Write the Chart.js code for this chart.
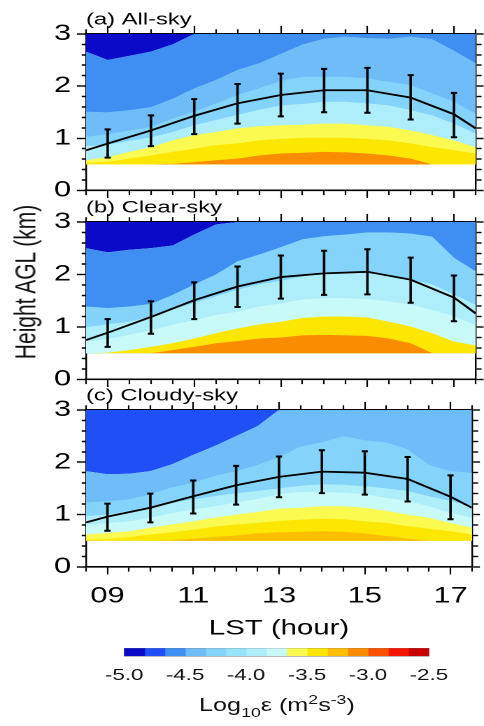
<!DOCTYPE html>
<html>
<head>
<meta charset="utf-8">
<script src="https://cdn.jsdelivr.net/npm/chart.js@4.4.1/dist/chart.umd.min.js"></script>
<style>
  html, body { margin: 0; padding: 0; background: #fff; }
  /* the figure is laid out 346px wide and stretched sideways to 484px */
  #figure { position: absolute; left: 0; top: 0; width: 346px; height: 726px;
            transform: scaleX(1.3988); transform-origin: 0 0;
            font-family: 'Liberation Sans', Arial, sans-serif; color: #111; }
  #figure canvas { position: absolute; left: 0; }
  .ytitle { position: absolute; left: -82px; top: 270px; width: 200px; height: 24px;
            line-height: 24px; text-align: center; font-size: 21px; transform: rotate(-90deg); }
  .cbtitle { position: absolute; left: 98px; top: 695px; width: 200px; line-height: 20px;
             text-align: center; font-size: 18px; white-space: nowrap; }
  .cbtitle sub, .cbtitle sup { font-size: 70%; line-height: 0; }
  .cbtitle sub { vertical-align: -0.45em; }
  .cbtitle sup { vertical-align: 0.55em; }
</style>
</head>
<body>
<div id="figure">
  <canvas id="panelA" width="346" height="212" style="top:0px"></canvas>
  <canvas id="panelB" width="346" height="213" style="top:188px"></canvas>
  <canvas id="panelC" width="346" height="265" style="top:376px"></canvas>
  <canvas id="colorbar" width="346" height="60" style="top:640px"></canvas>
  <div class="ytitle">Height AGL (km)</div>
  <div class="cbtitle">Log<sub>10</sub>ε (m<sup>2</sup>s<sup>-3</sup>)</div>
</div>
<script>
// sample times of the contour boundaries (LST, hours)
const TIMES = [8.5, 9, 9.5, 10, 10.5, 11, 11.5, 12, 12.5, 13, 13.5, 14, 14.5, 15, 15.5, 16, 16.5, 17, 17.5];
// mean-height line and error bars
const LINE_TIMES = [8.5, 9, 10, 11, 12, 13, 14, 15, 16, 17, 17.5];
const HOURS = [9, 10, 11, 12, 13, 14, 15, 16, 17];

// log10(epsilon) colour levels
const LEVEL_EDGES = [-5.0, -4.833, -4.667, -4.5, -4.333, -4.167, -4.0, -3.833, -3.667,
                     -3.5, -3.333, -3.167, -3.0, -2.833, -2.667, -2.5];
const COLORS = ['#0a0ac8', '#1e50f5', '#3f8ef2', '#6ebcf8', '#84d3fa', '#98e2fa', '#aeeefa',
                '#c8fafa', '#fafa50', '#fde600', '#fbbe00', '#fa8c00', '#fa5000', '#f51400', '#c80000'];

// (a) all-sky: boundary heights (km), top boundary first
const ALL_SKY_BOUNDS = [
  [2.66, 2.5, 2.58, 2.66, 2.8, 3.0, 3.0, 3.0, 3.0, 3.0, 3.0, 3.0, 3.0, 3.0, 3.0, 3.0, 3.0, 3.0, 3.0],
  [1.51, 1.5, 1.54, 1.6, 1.76, 1.96, 2.12, 2.31, 2.44, 2.62, 2.8, 2.91, 2.95, 2.92, 2.91, 2.95, 2.9, 2.68, 2.44],
  [1.03, 1.08, 1.15, 1.22, 1.38, 1.51, 1.67, 1.83, 1.96, 2.1, 2.18, 2.18, 2.18, 2.15, 2.08, 2.02, 1.86, 1.7, 1.47],
  [0.85, 0.88, 0.95, 1.02, 1.12, 1.25, 1.35, 1.45, 1.55, 1.63, 1.66, 1.7, 1.7, 1.67, 1.63, 1.54, 1.44, 1.28, 1.09],
  [0.58, 0.64, 0.74, 0.83, 0.96, 1.06, 1.12, 1.19, 1.23, 1.25, 1.26, 1.28, 1.28, 1.25, 1.22, 1.15, 1.06, 0.96, 0.83],
  [0.53, 0.55, 0.61, 0.67, 0.74, 0.8, 0.87, 0.9, 0.96, 0.99, 1.01, 1.01, 1.01, 0.99, 0.96, 0.9, 0.83, 0.77, 0.71],
  [0.5, 0.5, 0.5, 0.5, 0.51, 0.54, 0.58, 0.61, 0.67, 0.71, 0.72, 0.74, 0.73, 0.71, 0.67, 0.61, 0.5, 0.5, 0.5]
];
const ALL_SKY_MEAN = [0.77, 0.9, 1.15, 1.43, 1.67, 1.83, 1.92, 1.92, 1.78, 1.46, 1.19];
const ALL_SKY_LOW = [0.63, 0.85, 1.08, 1.28, 1.42, 1.5, 1.49, 1.36, 1.02];
const ALL_SKY_HIGH = [1.17, 1.44, 1.75, 2.04, 2.24, 2.33, 2.35, 2.21, 1.87];

// (b) clear-sky
const CLEAR_SKY_BOUNDS = [
  [2.5, 2.42, 2.47, 2.5, 2.55, 2.76, 2.95, 3.0, 3.0, 3.0, 3.0, 3.0, 3.0, 3.0, 3.0, 3.0, 3.0, 3.0, 3.0],
  [1.39, 1.36, 1.39, 1.44, 1.61, 1.81, 2.0, 2.25, 2.38, 2.52, 2.67, 2.73, 2.76, 2.8, 2.8, 2.78, 2.72, 2.32, 2.06],
  [1.0, 1.05, 1.1, 1.2, 1.33, 1.46, 1.58, 1.71, 1.81, 1.88, 1.96, 2.03, 2.05, 2.02, 1.99, 1.9, 1.81, 1.62, 1.42],
  [0.72, 0.77, 0.85, 0.94, 1.04, 1.13, 1.23, 1.29, 1.39, 1.45, 1.52, 1.55, 1.55, 1.53, 1.49, 1.42, 1.33, 1.2, 1.04],
  [0.5, 0.51, 0.56, 0.62, 0.69, 0.78, 0.88, 0.97, 1.05, 1.1, 1.17, 1.2, 1.2, 1.18, 1.1, 1.01, 0.88, 0.72, 0.65],
  [0.5, 0.5, 0.5, 0.5, 0.56, 0.62, 0.69, 0.73, 0.78, 0.8, 0.84, 0.85, 0.84, 0.83, 0.78, 0.69, 0.5, 0.5, 0.5]
];
const CLEAR_SKY_MEAN = [0.75, 0.89, 1.19, 1.51, 1.77, 1.95, 2.02, 2.05, 1.9, 1.56, 1.26];
const CLEAR_SKY_LOW = [0.62, 0.87, 1.15, 1.38, 1.54, 1.61, 1.62, 1.46, 1.11];
const CLEAR_SKY_HIGH = [1.15, 1.49, 1.85, 2.15, 2.36, 2.45, 2.48, 2.32, 1.98];

// (c) cloudy-sky
const CLOUDY_SKY_BOUNDS = [
  [1.83, 1.77, 1.78, 1.83, 1.96, 2.14, 2.31, 2.5, 2.69, 3.0, 3.0, 3.0, 3.0, 3.0, 3.0, 3.0, 3.0, 3.0, 3.0],
  [1.23, 1.26, 1.29, 1.39, 1.52, 1.61, 1.74, 1.83, 1.95, 2.1, 2.3, 2.38, 2.5, 2.42, 2.38, 2.25, 1.95, 1.83, 1.8],
  [0.97, 1.0, 1.07, 1.13, 1.23, 1.29, 1.35, 1.41, 1.45, 1.5, 1.55, 1.58, 1.57, 1.54, 1.5, 1.45, 1.35, 1.26, 1.16],
  [0.81, 0.84, 0.87, 0.94, 1.03, 1.1, 1.16, 1.23, 1.3, 1.39, 1.43, 1.43, 1.42, 1.39, 1.32, 1.26, 1.16, 1.03, 0.94],
  [0.62, 0.65, 0.68, 0.75, 0.81, 0.87, 0.94, 1.0, 1.05, 1.11, 1.13, 1.16, 1.16, 1.13, 1.07, 1.0, 0.94, 0.84, 0.75],
  [0.52, 0.53, 0.57, 0.62, 0.66, 0.71, 0.77, 0.81, 0.84, 0.88, 0.9, 0.92, 0.91, 0.87, 0.84, 0.78, 0.73, 0.68, 0.62],
  [0.5, 0.5, 0.5, 0.5, 0.51, 0.54, 0.57, 0.6, 0.64, 0.66, 0.67, 0.68, 0.67, 0.64, 0.59, 0.54, 0.5, 0.5, 0.5]
];
const CLOUDY_SKY_MEAN = [0.85, 0.96, 1.13, 1.35, 1.56, 1.72, 1.82, 1.8, 1.68, 1.34, 1.13];
const CLOUDY_SKY_LOW = [0.69, 0.85, 1.02, 1.19, 1.33, 1.41, 1.38, 1.25, 0.91];
const CLOUDY_SKY_HIGH = [1.21, 1.40, 1.65, 1.93, 2.11, 2.23, 2.21, 2.10, 1.75];

// colour index of each band: above the top boundary, then below each boundary
const ALL_SKY_FILLS = [0, 2, 3, 4, 6, 8, 9, 11];
const CLEAR_SKY_FILLS = [0, 2, 4, 6, 7, 9, 11];
const CLOUDY_SKY_FILLS = [1, 3, 4, 6, 7, 8, 9, 10];

Chart.defaults.font.family = "'Liberation Sans', Arial, sans-serif";
Chart.defaults.color = '#000';

const near = (a, b) => Math.abs(a - b) < 1e-6;
const majorX = v => near(v, Math.round(v)) && Math.round(v) % 2 === 1;
const majorY = v => near(v, Math.round(v));
const dashX = minor => c => (!c.tick || majorX(c.tick.value)) ? [] : minor;
const dashY = minor => c => (!c.tick || majorY(c.tick.value)) ? [] : minor;

function points(xs, ys) {
  return xs.map((x, i) => ({x: x, y: ys[i]}));
}

function bandDatasets(bounds, fills) {
  const sets = [{data: points(TIMES, bounds[0]), fill: 'end', backgroundColor: COLORS[fills[0]], order: 100}];
  bounds.forEach((b, k) => {
    sets.push({data: points(TIMES, b), fill: {value: 0.5}, backgroundColor: COLORS[fills[k + 1]], order: 90 - k});
  });
  return sets.map(s => Object.assign({
    type: 'line', xAxisID: 'x', yAxisID: 'y', borderWidth: 0, borderColor: 'rgba(0,0,0,0)',
    pointRadius: 0, tension: 0
  }, s));
}

function errorBars(low, high) {
  const pts = [];
  HOURS.forEach((h, i) => {
    pts.push({x: h, y: low[i]}, {x: h, y: high[i]}, {x: h, y: null});
  });
  return pts;
}

function panel(id, title, bounds, fills, mean, low, high, showX) {
  const datasets = bandDatasets(bounds, fills);
  datasets.push({
    type: 'line', xAxisID: 'x', yAxisID: 'y', data: errorBars(low, high),
    borderColor: '#000', borderWidth: 1.8, spanGaps: false,
    pointStyle: 'line', pointRadius: 2.2, pointBorderWidth: 2, pointBorderColor: '#000', order: 1
  });
  datasets.push({
    type: 'line', xAxisID: 'x', yAxisID: 'y', data: points(LINE_TIMES, mean),
    borderColor: '#000', borderWidth: 1.8, pointRadius: 0, tension: 0, order: 0
  });

  return new Chart(document.getElementById(id), {
    type: 'line',
    data: {datasets: datasets},
    options: {
      responsive: false,
      devicePixelRatio: 2,
      animation: false,
      events: [],
      layout: {padding: {top: 14, bottom: showX ? 2 : 14, left: 0, right: 0}},
      plugins: {
        legend: {display: false},
        tooltip: {enabled: false},
        title: {
          display: true, text: title, position: 'top', align: 'start', fullSize: false,
          font: {size: 17, weight: 'normal', lineHeight: 0.7}, color: '#000', padding: 0
        }
      },
      scales: {
        x: {
          type: 'linear', position: 'bottom', min: 8.5, max: 17.5,
          ticks: {
            display: showX, stepSize: 0.5, autoSkip: false, maxRotation: 0, padding: 8.6,
            font: {size: 22}, color: '#000',
            callback: v => majorX(v) ? String(Math.round(v)).padStart(2, '0') : ''
          },
          grid: {drawOnChartArea: false, tickLength: 7.5, tickWidth: 1.1, tickColor: '#000',
                 tickBorderDash: dashX([4, 100])},
          border: {color: '#000', width: 1.6},
          title: {display: showX, text: 'LST (hour)', font: {size: 21, lineHeight: 1}, color: '#000',
                  padding: 0}
        },
        xTop: {
          type: 'linear', position: 'top', min: 8.5, max: 17.5,
          ticks: {display: false, stepSize: 0.5, autoSkip: false},
          grid: {drawOnChartArea: false, tickLength: 8, tickWidth: 1.1, tickColor: '#000',
                 tickBorderDash: dashX([0, 3.3, 4.7, 100])},
          border: {color: '#000', width: 1.6}
        },
        y: {
          type: 'linear', position: 'left', min: 0, max: 3,
          ticks: {
            stepSize: 0.2, autoSkip: false, padding: 4, font: {size: 22}, color: '#000',
            callback: v => majorY(v) ? String(Math.round(v)) : ''
          },
          grid: {drawOnChartArea: false, tickLength: 6.6, tickWidth: 1.4, tickColor: '#000',
                 tickBorderDash: dashY([0, 3.5, 3.1, 100])},
          border: {color: '#000', width: 1.2},
          afterFit: s => { s.width = 61.5; }
        },
        yRight: {
          type: 'linear', position: 'right', min: 0, max: 3,
          ticks: {display: false, stepSize: 0.2, autoSkip: false},
          grid: {drawOnChartArea: false, tickLength: 5.7, tickWidth: 1.4, tickColor: '#000',
                 tickBorderDash: dashY([3.6, 100])},
          border: {color: '#000', width: 1.2}
        }
      }
    }
  });
}

panel('panelA', '(a) All-sky', ALL_SKY_BOUNDS, ALL_SKY_FILLS, ALL_SKY_MEAN, ALL_SKY_LOW, ALL_SKY_HIGH, false);
panel('panelB', '(b) Clear-sky', CLEAR_SKY_BOUNDS, CLEAR_SKY_FILLS, CLEAR_SKY_MEAN, CLEAR_SKY_LOW, CLEAR_SKY_HIGH, false);
panel('panelC', '(c) Cloudy-sky', CLOUDY_SKY_BOUNDS, CLOUDY_SKY_FILLS, CLOUDY_SKY_MEAN, CLOUDY_SKY_LOW, CLOUDY_SKY_HIGH, true);

// colour bar: one floating bar per level
const hidden = {drawOnChartArea: false, drawTicks: false};
new Chart(document.getElementById('colorbar'), {
  type: 'bar',
  data: {
    labels: [''],
    datasets: COLORS.map((c, k) => ({
      data: [[LEVEL_EDGES[k], LEVEL_EDGES[k + 1]]], backgroundColor: c, borderWidth: 0,
      barPercentage: 1, categoryPercentage: 1, grouped: false, xAxisID: 'x', yAxisID: 'y'
    }))
  },
  options: {
    indexAxis: 'y',
    responsive: false,
    devicePixelRatio: 2,
    animation: false,
    events: [],
    layout: {padding: {left: 88.8, right: 39.4, top: 8.3, bottom: 14}},
    plugins: {legend: {display: false}, tooltip: {enabled: false}},
    scales: {
      x: {type: 'linear', position: 'bottom', min: -5, max: -2.5,
          ticks: {stepSize: 0.5, padding: 10, font: {size: 16}, color: '#111', callback: v => v.toFixed(1)},
          grid: hidden, border: {color: '#777', width: 1},
          afterFit: s => { s.height = 30; }},
      xTop: {type: 'linear', position: 'top', min: -5, max: -2.5, ticks: {display: false},
             grid: hidden, border: {color: '#777', width: 1}},
      y: {type: 'category', position: 'left', ticks: {display: false}, grid: hidden,
          border: {color: '#777', width: 1}},
      yRight: {type: 'category', position: 'right', ticks: {display: false}, grid: hidden,
               border: {color: '#777', width: 1}}
    }
  }
});
</script>
</body>
</html>
